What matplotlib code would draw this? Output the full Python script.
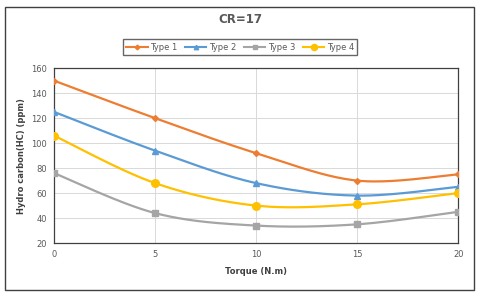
import numpy as np
import matplotlib.pyplot as plt
from matplotlib.patches import Rectangle

torque = [0, 5, 10, 15, 20]
type1 = [150, 120, 92, 70, 75]
type2 = [125, 94, 68, 58, 65]
type3 = [76, 44, 34, 35, 45]
type4 = [106, 68, 50, 51, 60]


def smooth(x, y, n=40, t=0.5):
    # cardinal spline through the points, like excel's smoothed line
    x = np.asarray(x, float)
    y = np.asarray(y, float)
    px = np.concatenate([[x[0]], x, [x[-1]]])
    py = np.concatenate([[y[0]], y, [y[-1]]])
    xs, ys = [], []
    for i in range(1, len(px) - 2):
        m0x = t * (px[i + 1] - px[i - 1])
        m0y = t * (py[i + 1] - py[i - 1])
        m1x = t * (px[i + 2] - px[i])
        m1y = t * (py[i + 2] - py[i])
        s = np.linspace(0, 1, n)
        h00 = 2 * s**3 - 3 * s**2 + 1
        h10 = s**3 - 2 * s**2 + s
        h01 = -2 * s**3 + 3 * s**2
        h11 = s**3 - s**2
        xs.append(h00 * px[i] + h10 * m0x + h01 * px[i + 1] + h11 * m1x)
        ys.append(h00 * py[i] + h10 * m0y + h01 * py[i + 1] + h11 * m1y)
    return np.concatenate(xs), np.concatenate(ys)


fig = plt.figure(figsize=(4.8, 2.95), dpi=100)
ax = fig.add_axes([0.1125, 0.176, 0.842, 0.593])

series = [
    ('Type 1', type1, '#ED7D31', 'D', 3),
    ('Type 2', type2, '#5B9BD5', '^', 4),
    ('Type 3', type3, '#A5A5A5', 's', 4),
    ('Type 4', type4, '#FFC000', 'o', 5.5),
]
for name, vals, c, m, ms in series:
    sx, sy = smooth(torque, vals)
    ax.plot(sx, sy, color=c, lw=1.6, zorder=3)
    ax.plot(torque, vals, ls='none', marker=m, ms=ms, color=c, zorder=4)
    ax.plot([], [], color=c, lw=1.5, marker=m, ms=ms * 0.8, label=name)

ax.set_xlim(0, 20)
ax.set_ylim(20, 160)
ax.set_xticks([0, 5, 10, 15, 20])
ax.set_yticks(range(20, 161, 20))
ax.grid(True, color='#D9D9D9', lw=0.7)
ax.set_axisbelow(True)
for sp in ax.spines.values():
    sp.set_color('#404040')
    sp.set_linewidth(0.9)
ax.tick_params(length=0, labelsize=6, colors='#595959', pad=5)

ax.set_xlabel('Torque (N.m)', fontsize=6, fontweight='bold', color='#404040', labelpad=6)
ax.set_ylabel('Hydro carbon(HC) (ppm)', fontsize=6, fontweight='bold', color='#404040', labelpad=4)
fig.text(0.5, 0.935, 'CR=17', ha='center', va='center', fontsize=8.5,
         fontweight='bold', color='#595959')

leg = fig.legend(loc='center', bbox_to_anchor=(0.5, 0.84), ncol=4, fontsize=6,
                 frameon=True, fancybox=False, handlelength=2.6, columnspacing=0.9,
                 handletextpad=0.3, borderpad=0.4)
leg.get_frame().set_edgecolor('#404040')
leg.get_frame().set_linewidth(1.0)
for t in leg.get_texts():
    t.set_color('#595959')

fig.patches.append(Rectangle((0.01, 0.017), 0.978, 0.958, transform=fig.transFigure,
                             fill=False, edgecolor='#404040', lw=1.0))

fig.savefig('out.png', dpi=100)
